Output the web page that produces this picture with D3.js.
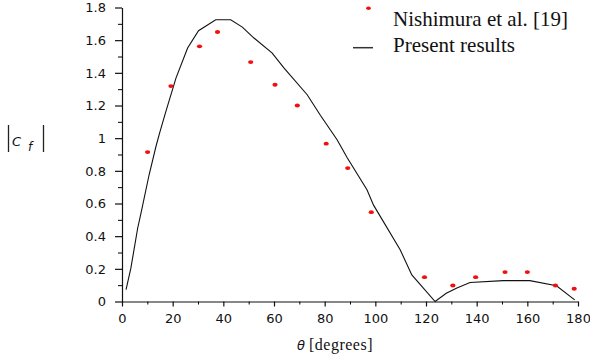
<!DOCTYPE html>
<html>
<head>
<meta charset="utf-8">
<script src="https://cdn.jsdelivr.net/npm/d3@7"></script>
<style>
  body { margin: 0; background: #fff; }
  svg { display: block; }
</style>
</head>
<body>
<div id="chart"></div>
<script>
// Nishimura et al. [19] (red points)
const refTheta = [10.1, 19.3, 30.6, 37.7, 50.8, 60.4, 69.2, 80.6, 89.1, 98.4, 119.4, 130.6, 139.6, 151.2, 160, 171.1, 178.5];
const refCf = [0.915, 1.319, 1.562, 1.65, 1.466, 1.327, 1.2, 0.966, 0.817, 0.547, 0.149, 0.098, 0.149, 0.18, 0.18, 0.098, 0.078];

// present results (black line)
const curTheta = [1.6, 3.5, 6.2, 7.5, 10.7, 13.4, 15, 17.3, 21.3, 25.9, 30.2, 37, 42.9, 47.5, 52.1, 59.3, 63.9, 73.1, 78.3, 84.9, 88.9, 96.7, 99.3, 109.8, 114.4, 123.6, 128, 132.2, 137.4, 150.5, 161, 171.5, 178.7];
const curCf = [0.072, 0.204, 0.45, 0.541, 0.776, 0.949, 1.04, 1.163, 1.368, 1.552, 1.658, 1.725, 1.725, 1.68, 1.613, 1.521, 1.43, 1.266, 1.14, 0.99, 0.88, 0.684, 0.59, 0.317, 0.163, 0.0, 0.05, 0.082, 0.116, 0.128, 0.128, 0.096, 0.01];

const xTicks = [0, 20, 40, 60, 80, 100, 120, 140, 160, 180];
const yTicks = [0, 0.2, 0.4, 0.6, 0.8, 1, 1.2, 1.4, 1.6, 1.8];

const width = 590, height = 362;
const margin = {left: 122, right: 12, top: 7.5, bottom: 60.5};

const svg = d3.select('#chart').append('svg')
  .attr('width', width)
  .attr('height', height);

const x = d3.scaleLinear().domain([0, 180]).range([margin.left, width - margin.right]);
const y = d3.scaleLinear().domain([0, 1.8]).range([height - margin.bottom, margin.top]);

const tickFont = 'DejaVu Sans, sans-serif';

// minor ticks first, then the labelled ones
svg.append('g')
  .attr('transform', 'translate(0,' + y(0) + ')')
  .call(d3.axisBottom(x).tickValues(d3.range(10, 180, 20)).tickSize(3).tickFormat(''))
  .call(g => g.select('.domain').remove());

svg.append('g')
  .attr('transform', 'translate(' + x(0) + ',0)')
  .call(d3.axisLeft(y).tickValues(d3.range(0.1, 1.8, 0.2)).tickSize(4).tickFormat(''))
  .call(g => g.select('.domain').remove());

const xAxis = svg.append('g')
  .attr('transform', 'translate(0,' + y(0) + ')')
  .call(d3.axisBottom(x).tickValues(xTicks).tickSize(5).tickSizeOuter(0).tickPadding(7).tickFormat(d3.format('d')));

const yAxis = svg.append('g')
  .attr('transform', 'translate(' + x(0) + ',0)')
  .call(d3.axisLeft(y).tickValues(yTicks).tickSize(7).tickSizeOuter(0).tickPadding(9).tickFormat(d => d3.format('~g')(d)));

[xAxis, yAxis].forEach(g => {
  g.selectAll('text').attr('font-family', tickFont).attr('font-size', 13).attr('fill', '#111');
  g.selectAll('line, path').attr('stroke', '#111').attr('stroke-width', 1.2);
});

// present results
const line = d3.line()
  .x((d, i) => x(curTheta[i]))
  .y(d => y(d));

svg.append('path')
  .datum(curCf)
  .attr('d', line)
  .attr('fill', 'none')
  .attr('stroke', '#111')
  .attr('stroke-width', 1.1);

// Nishimura points
svg.append('g')
  .selectAll('ellipse')
  .data(refCf)
  .enter().append('ellipse')
  .attr('cx', (d, i) => x(refTheta[i]))
  .attr('cy', d => y(d))
  .attr('rx', 2.6)
  .attr('ry', 1.9)
  .attr('fill', '#f01010');

// legend
const legend = svg.append('g')
  .attr('font-family', 'Liberation Serif, Times New Roman, serif')
  .attr('font-size', 21)
  .attr('fill', '#111');

legend.append('ellipse')
  .attr('cx', 368.5).attr('cy', 8.3)
  .attr('rx', 2.4).attr('ry', 1.8)
  .attr('fill', '#f01010');
legend.append('text')
  .attr('x', 393).attr('y', 26)
  .text('Nishimura et al. [19]');

legend.append('line')
  .attr('x1', 353).attr('x2', 373)
  .attr('y1', 47.7).attr('y2', 47.7)
  .attr('stroke', '#333').attr('stroke-width', 1.5);
legend.append('text')
  .attr('x', 393).attr('y', 51.5)
  .text('Present results');

// y label |C_f|
const yl = svg.append('g').attr('stroke', '#222').attr('stroke-width', 1.3);
yl.append('line').attr('x1', 8.5).attr('x2', 8.5).attr('y1', 125).attr('y2', 152);
yl.append('line').attr('x1', 43.5).attr('x2', 43.5).attr('y1', 125).attr('y2', 152);
const ylt = svg.append('text')
  .attr('font-family', 'DejaVu Sans, sans-serif')
  .attr('font-style', 'italic')
  .attr('fill', '#111');
ylt.append('tspan').attr('x', 12).attr('y', 146).attr('font-size', 13).text('C');
ylt.append('tspan').attr('x', 28).attr('y', 151).attr('font-size', 12).text('f');

// x label
svg.append('text')
  .attr('x', 297).attr('y', 350)
  .attr('font-family', 'DejaVu Sans, sans-serif')
  .attr('font-style', 'italic')
  .attr('font-size', 13)
  .attr('fill', '#111')
  .text('θ');
svg.append('text')
  .attr('x', 309).attr('y', 350)
  .attr('font-family', 'Liberation Serif, Times New Roman, serif')
  .attr('font-size', 16)
  .attr('letter-spacing', 0.5)
  .attr('fill', '#111')
  .text('[degrees]');
</script>
</body>
</html>
